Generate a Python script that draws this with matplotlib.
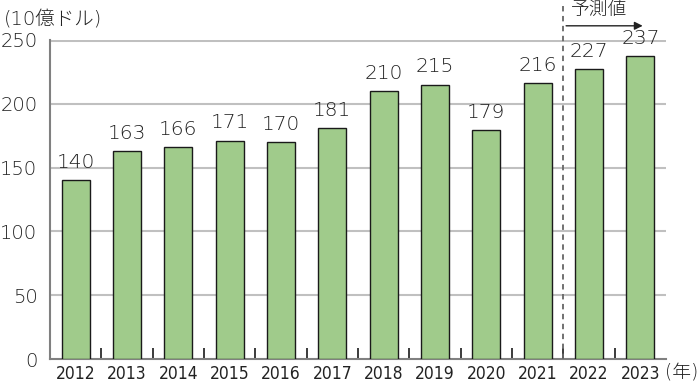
import matplotlib
matplotlib.use('Agg')
import matplotlib.pyplot as plt
import numpy as np

years = ['2012', '2013', '2014', '2015', '2016', '2017', '2018', '2019', '2020', '2021', '2022', '2023']
values = [140, 163, 166, 171, 170, 181, 210, 215, 179, 216, 227, 237]
yticks = [0, 50, 100, 150, 200, 250]

plt.rcParams['font.family'] = ['DejaVu Sans', 'Noto Sans CJK JP']
cjk = ['Noto Sans CJK JP', 'DejaVu Sans']
ink = '#222222'

fig = plt.figure(figsize=(7, 3.85), dpi=100)
ax = fig.add_axes([0.0714, 0.0675, 0.88, 0.829])

x = np.arange(len(years))
ax.bar(x, values, width=0.55, color='#a0cb8b', edgecolor='#1a1a1a', linewidth=1.0, zorder=3)

for xi, v in zip(x, values):
    ax.annotate(str(v), (xi, v), xytext=(0, 6), textcoords='offset points',
                ha='center', va='bottom', fontsize=14.5, fontweight='light',
                color=ink, zorder=4)

ax.set_xlim(-0.5, len(years) - 0.5)
ax.set_ylim(0, 250)
ax.set_yticks(yticks)
ax.set_yticklabels([str(t) for t in yticks], fontsize=14, fontweight='light', color=ink)
ax.set_xticks(x)
ax.set_xticklabels(years, fontsize=12.5, fontweight='light', fontstretch='condensed', color=ink)
ax.tick_params(axis='x', which='major', length=0, pad=4)
ax.tick_params(axis='y', which='major', length=0, pad=9)

# boundary ticks between categories
ax.set_xticks(np.arange(0.5, len(years) - 0.5, 1.0), minor=True)
ax.tick_params(axis='x', which='minor', direction='in', length=8, width=1.2, color='#1a1a1a')

for t in yticks[1:]:
    ax.axhline(t, color='#c0c0c0', linewidth=2.2 if t == 250 else 1.5, zorder=1)

for s in ['top', 'right']:
    ax.spines[s].set_visible(False)
ax.spines['left'].set_color('#808080')
ax.spines['bottom'].set_color('#808080')
ax.spines['left'].set_linewidth(1.5)
ax.spines['bottom'].set_linewidth(1.5)

# forecast marker
ax.plot([9.5, 9.5], [0, 278], linestyle=(0, (3, 2.5)), color='#666666', linewidth=1.3,
        clip_on=False, zorder=5)
ax.annotate('', xy=(11.1, 261), xytext=(9.5, 261),
            arrowprops=dict(arrowstyle='-|>', color=ink, lw=1.0, mutation_scale=12),
            annotation_clip=False)
ax.text(9.65, 266, '予測値', ha='left', va='bottom', fontsize=13.5, fontweight='light',
        family=cjk, color=ink, clip_on=False)

fig.text(0.005, 0.925, '(10億ドル)', ha='left', va='bottom', fontsize=14,
         fontweight='light', color=ink)
fig.text(0.998, 0.008, '(年)', ha='right', va='bottom', fontsize=13.5,
         fontweight='light', color=ink)

fig.savefig('out.png', dpi=100)
